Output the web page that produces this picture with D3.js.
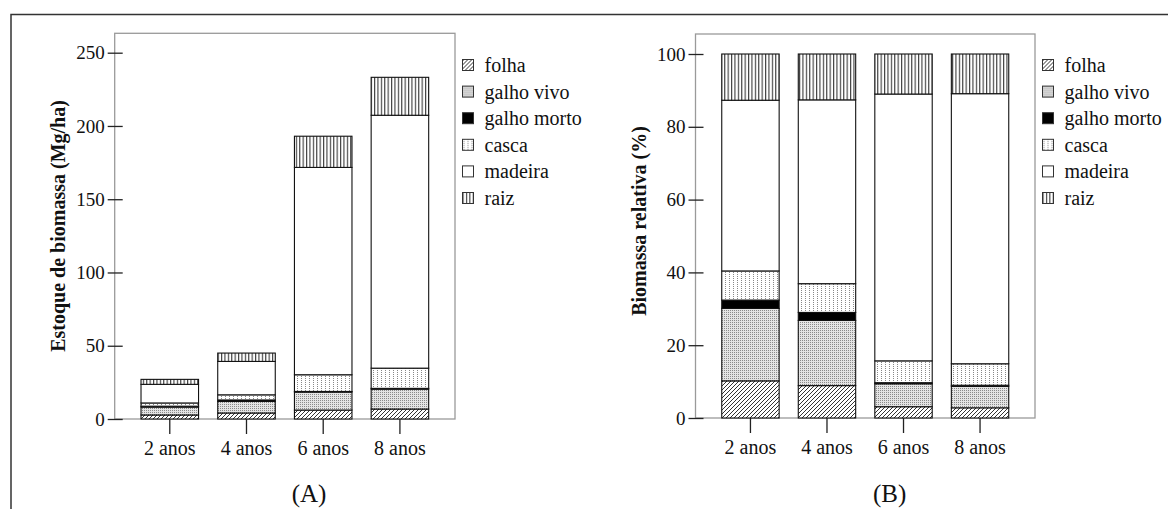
<!DOCTYPE html>
<html>
<head>
<meta charset="utf-8">
<script src="https://cdn.jsdelivr.net/npm/d3@7"></script>
<style>
  html, body { margin: 0; padding: 0; background: #fff; }
  svg { display: block; font-family: "Liberation Serif", "DejaVu Serif", serif; }
</style>
</head>
<body>
<div id="drawing"></div>
<script>
// categories and legend entries
const categories = ["2 anos", "4 anos", "6 anos", "8 anos"];
const components = ["folha", "galho vivo", "galho morto", "casca", "madeira", "raiz"];

// (A) biomass stock, Mg/ha
const folhaMg = [2.75, 4.1, 6.1, 6.8];
const galhoVivoMg = [5.4, 7.9, 12.3, 13.6];
const galhoMortoMg = [0.6, 1.0, 0.4, 0.5];
const cascaMg = [2.2, 3.5, 11.4, 13.8];
const madeiraMg = [12.7, 22.8, 141.5, 172.6];
const raizMg = [3.4, 5.7, 21.3, 25.9];

// (B) relative biomass, %
const folhaPct = [10.2, 8.9, 3.1, 2.8];
const galhoVivoPct = [19.9, 17.9, 6.3, 5.9];
const galhoMortoPct = [2.3, 2.2, 0.3, 0.3];
const cascaPct = [8.0, 7.9, 6.0, 5.9];
const madeiraPct = [46.9, 50.5, 73.3, 74.2];
const raizPct = [12.7, 12.6, 11.0, 10.9];

// tick labels
const ticksA = [0, 50, 100, 150, 200, 250];
const ticksB = [0, 20, 40, 60, 80, 100];

const svg = d3
  .select("#drawing")
  .append("svg")
  .attr("width", 1168)
  .attr("height", 509);

// fill patterns
const defs = svg.append("defs");

const hatch = defs.append("pattern")
  .attr("id", "p-folha")
  .attr("patternUnits", "userSpaceOnUse")
  .attr("width", 4).attr("height", 4);
hatch.append("rect").attr("width", 4).attr("height", 4).attr("fill", "#fff");
hatch.append("path")
  .attr("d", "M-1,1 l2,-2 M0,4 l4,-4 M3,5 l2,-2")
  .attr("stroke", "#333").attr("stroke-width", 1);

const stipple = defs.append("pattern")
  .attr("id", "p-galhovivo")
  .attr("patternUnits", "userSpaceOnUse")
  .attr("width", 2).attr("height", 2);
stipple.append("rect").attr("width", 2).attr("height", 2).attr("fill", "#e4e4e4");
stipple.append("rect").attr("width", 1).attr("height", 1).attr("fill", "#8a8a8a");

const dots = defs.append("pattern")
  .attr("id", "p-casca")
  .attr("patternUnits", "userSpaceOnUse")
  .attr("width", 4).attr("height", 2);
dots.append("rect").attr("width", 4).attr("height", 2).attr("fill", "#fff");
dots.append("rect").attr("x", 1).attr("width", 1).attr("height", 1).attr("fill", "#888");

const vlines = defs.append("pattern")
  .attr("id", "p-raiz")
  .attr("patternUnits", "userSpaceOnUse")
  .attr("width", 3.4).attr("height", 10);
vlines.append("rect").attr("width", 3.4).attr("height", 10).attr("fill", "#fff");
vlines.append("line")
  .attr("x1", 0.6).attr("x2", 0.6).attr("y1", 0).attr("y2", 10)
  .attr("stroke", "#222").attr("stroke-width", 1);

const fills = {
  "folha": "url(#p-folha)",
  "galho vivo": "url(#p-galhovivo)",
  "galho morto": "#000",
  "casca": "url(#p-casca)",
  "madeira": "#fff",
  "raiz": "url(#p-raiz)",
};

// outer frame (top and left edges only)
svg.append("path")
  .attr("d", "M11,509 L11,14.5 L1168,14.5")
  .attr("fill", "none")
  .attr("stroke", "#333")
  .attr("stroke-width", 1.5);

function stackRows(series) {
  return categories.map((c, i) => {
    const row = { cat: c };
    components.forEach((k, j) => (row[k] = series[j][i]));
    return row;
  });
}

function panel(opts) {
  const { left, right, top, zeroY, maxVal, maxY, ticks, series, yTitle, titleX, titleY, tag, tagX } = opts;
  const g = svg.append("g");

  const x = d3.scaleBand()
    .domain(categories)
    .range([left, right])
    .paddingInner(0.25)
    .paddingOuter(0.343);

  const y = d3.scaleLinear()
    .domain([0, maxVal])
    .range([zeroY, maxY]);

  // plot box
  g.append("rect")
    .attr("x", left).attr("y", top)
    .attr("width", right - left).attr("height", zeroY - top)
    .attr("fill", "none")
    .attr("stroke", "#9a9a9a")
    .attr("stroke-width", 1.3);

  const stacked = d3.stack().keys(components)(stackRows(series));

  g.selectAll("g.layer")
    .data(stacked)
    .enter()
    .append("g")
    .attr("class", "layer")
    .attr("fill", (d) => fills[d.key])
    .selectAll("rect")
    .data((d) => d)
    .enter()
    .append("rect")
    .attr("x", (d) => x(d.data.cat))
    .attr("width", x.bandwidth())
    .attr("y", (d) => y(d[1]))
    .attr("height", (d) => y(d[0]) - y(d[1]))
    .attr("stroke", "#111")
    .attr("stroke-width", 1.1);

  // y axis, ticks crossing the box edge
  const yAxis = g.append("g")
    .attr("transform", `translate(${left},0)`)
    .call(d3.axisLeft(y).tickValues(ticks).tickSize(7).tickPadding(3));
  yAxis.select(".domain").remove();
  yAxis.selectAll(".tick line").attr("x1", 8).attr("stroke", "#222").attr("stroke-width", 1.3);
  yAxis.selectAll(".tick text")
    .attr("fill", "#111")
    .style("font-size", "19px")
    .style("font-family", "'Liberation Serif', serif");

  // x axis
  const xAxis = g.append("g")
    .attr("transform", `translate(0,${zeroY})`)
    .call(d3.axisBottom(x).tickSize(15).tickPadding(7));
  xAxis.select(".domain").remove();
  xAxis.selectAll(".tick line").attr("stroke", "#222").attr("stroke-width", 1.3);
  xAxis.selectAll(".tick text")
    .attr("fill", "#111")
    .style("font-size", "20px")
    .style("font-family", "'Liberation Serif', serif");

  // y title
  g.append("text")
    .attr("transform", `translate(${titleX},${titleY}) rotate(-90)`)
    .attr("text-anchor", "middle")
    .attr("dominant-baseline", "central")
    .style("font-size", "20px")
    .style("font-weight", "bold")
    .attr("fill", "#111")
    .text(yTitle);

  // panel tag
  g.append("text")
    .attr("x", tagX).attr("y", 502)
    .attr("text-anchor", "middle")
    .style("font-size", "25px")
    .attr("fill", "#111")
    .text(tag);

  // legend
  const legend = g.append("g").attr("transform", `translate(${right + 7.5},0)`);
  const items = legend.selectAll("g.item")
    .data(components)
    .enter()
    .append("g")
    .attr("class", "item")
    .attr("transform", (d, i) => `translate(0,${65 + i * 26.6})`);
  items.append("rect")
    .attr("x", 0).attr("y", -5.5)
    .attr("width", 11).attr("height", 11)
    .attr("fill", (d) => fills[d])
    .attr("stroke", "#333")
    .attr("stroke-width", 1);
  items.append("text")
    .attr("x", 22).attr("y", 0)
    .attr("dominant-baseline", "central")
    .style("font-size", "20px")
    .attr("fill", "#111")
    .text((d) => d);
}

panel({
  left: 114.7, right: 455, top: 33.3, zeroY: 419,
  maxVal: 250, maxY: 52.7, ticks: ticksA,
  series: [folhaMg, galhoVivoMg, galhoMortoMg, cascaMg, madeiraMg, raizMg],
  yTitle: "Estoque de biomassa (Mg/ha)", titleX: 58, titleY: 226,
  tag: "(A)", tagX: 309,
});

panel({
  left: 695.5, right: 1035, top: 34, zeroY: 418,
  maxVal: 100, maxY: 54, ticks: ticksB,
  series: [folhaPct, galhoVivoPct, galhoMortoPct, cascaPct, madeiraPct, raizPct],
  yTitle: "Biomassa relativa (%)", titleX: 639, titleY: 221,
  tag: "(B)", tagX: 889.7,
});
</script>
</body>
</html>
